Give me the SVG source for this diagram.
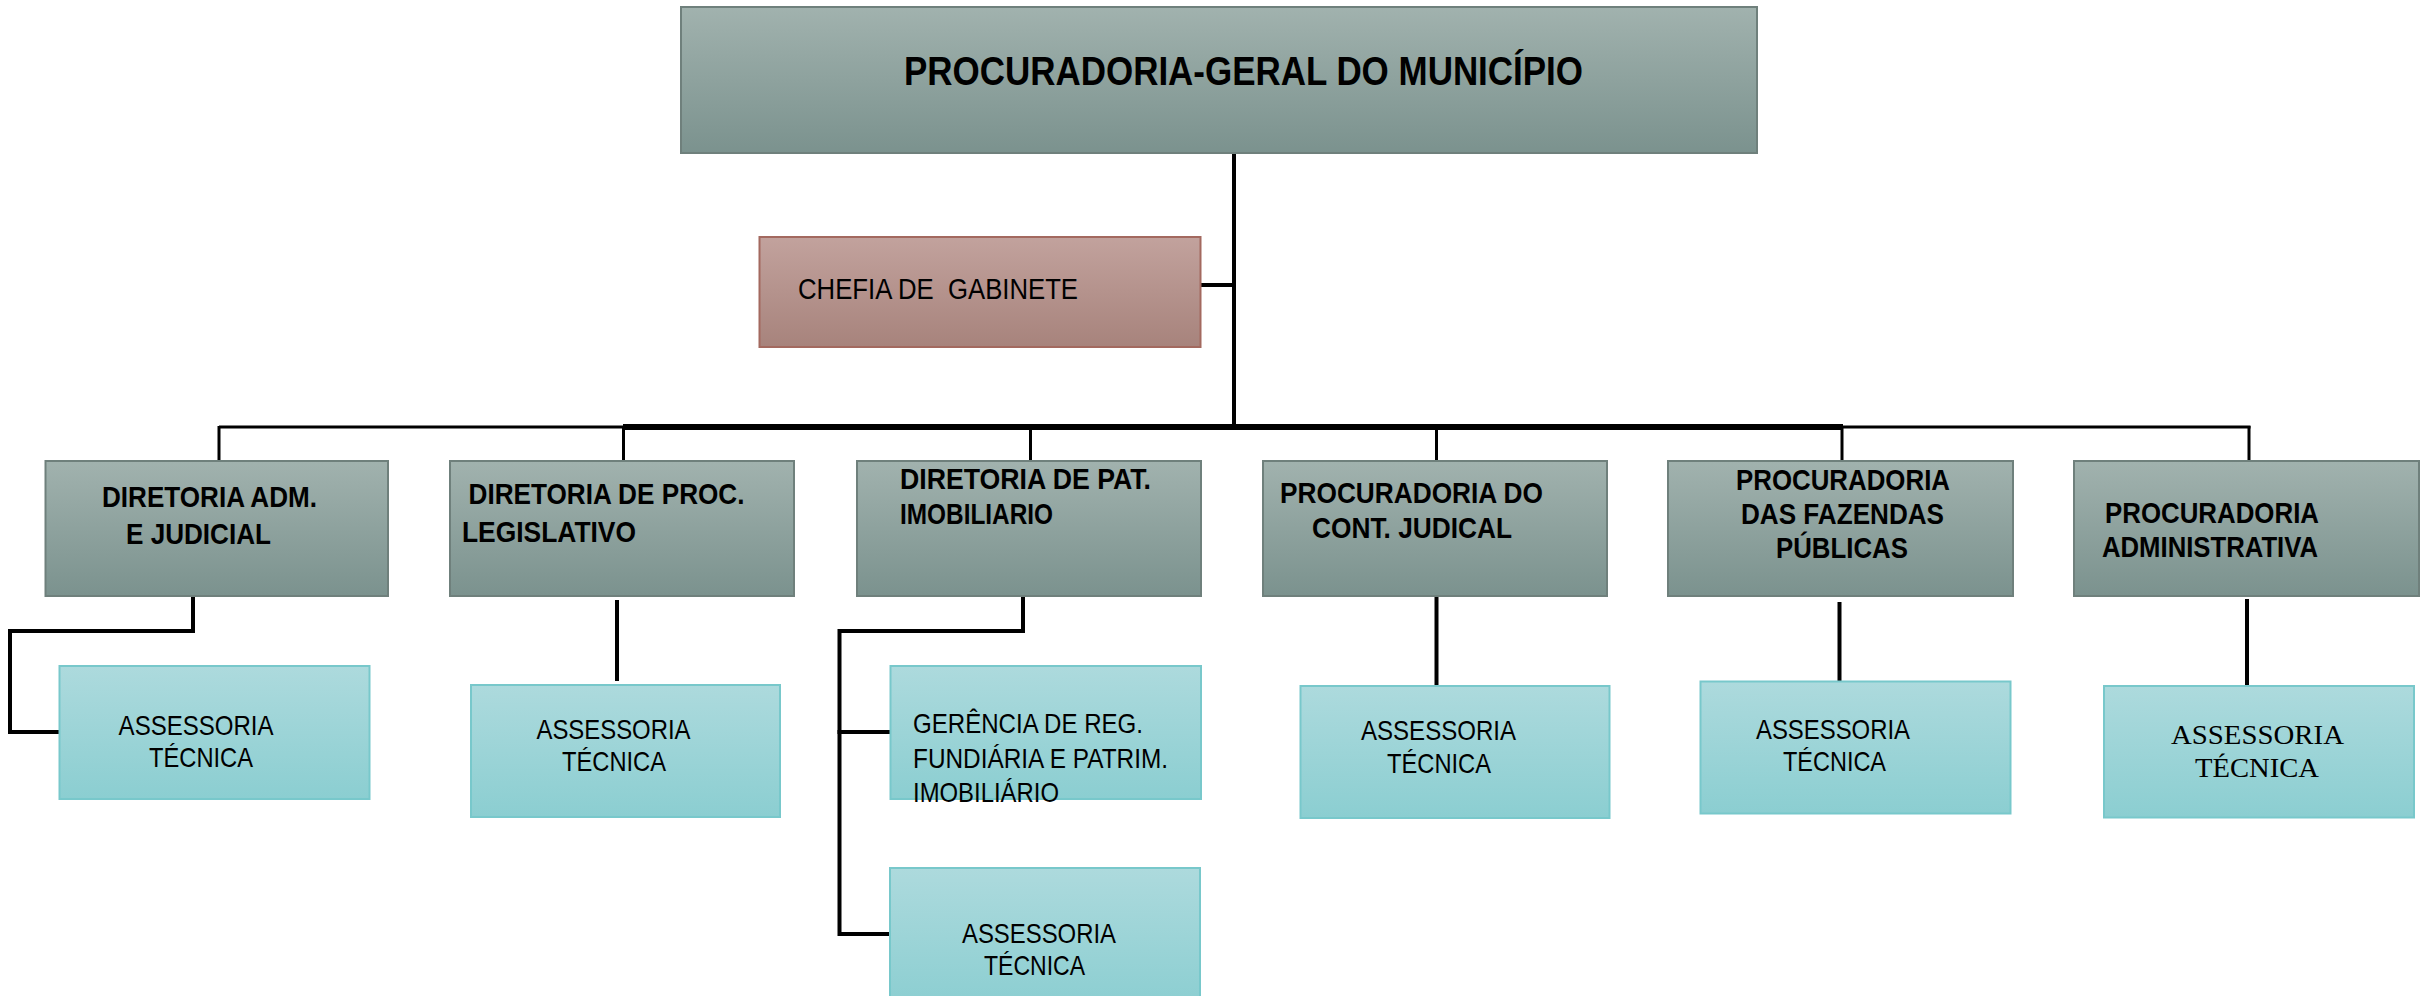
<svg xmlns="http://www.w3.org/2000/svg" width="2433" height="996" viewBox="0 0 2433 996">
<defs>
<linearGradient id="gGray" x1="0" y1="0" x2="0" y2="1">
<stop offset="0" stop-color="#a1b2ae"/>
<stop offset="1" stop-color="#7b928e"/>
</linearGradient>
<linearGradient id="gRed" x1="0" y1="0" x2="0" y2="1">
<stop offset="0" stop-color="#c2a29d"/>
<stop offset="1" stop-color="#a7837c"/>
</linearGradient>
<linearGradient id="gTeal" x1="0" y1="0" x2="0" y2="1">
<stop offset="0" stop-color="#addadd"/>
<stop offset="1" stop-color="#8bced1"/>
</linearGradient>
</defs>
<style>
.gray{fill:url(#gGray);stroke:#6f807c;stroke-width:2}
.red{fill:url(#gRed);stroke:#a3695f;stroke-width:2}
.teal{fill:url(#gTeal);stroke:#78c8cb;stroke-width:2}
.b{font-family:"Liberation Sans",Arial,sans-serif;font-weight:bold;font-size:30px;fill:#000}
.title{font-family:"Liberation Sans",Arial,sans-serif;font-weight:bold;font-size:41px;fill:#000}
.r{font-family:"Liberation Sans",Arial,sans-serif;font-size:28px;fill:#000}
.r30{font-family:"Liberation Sans",Arial,sans-serif;font-size:30px;fill:#000;white-space:pre}
.s{font-family:"Liberation Serif","Times New Roman",serif;font-size:27px;fill:#000}
.ln{fill:none;stroke:#000;stroke-width:4;stroke-linecap:square}
.thin{fill:none;stroke:#000;stroke-width:3}
</style>
<g id="connectors">
<line class="ln" x1="1234" y1="153" x2="1234" y2="427"/>
<line class="ln" x1="1201" y1="285" x2="1234" y2="285"/>
<line class="thin" x1="219" y1="427" x2="625" y2="427"/>
<line x1="623" y1="427" x2="1843" y2="427" stroke="#000" stroke-width="6"/>
<line class="thin" x1="1841" y1="427" x2="2250.5" y2="427"/>
<line class="thin" x1="219" y1="426" x2="219" y2="461"/>
<line class="thin" x1="623.5" y1="426" x2="623.5" y2="461"/>
<line class="thin" x1="1030.5" y1="426" x2="1030.5" y2="461"/>
<line class="thin" x1="1436.5" y1="426" x2="1436.5" y2="461"/>
<line class="thin" x1="1842" y1="426" x2="1842" y2="461"/>
<line class="thin" x1="2249" y1="426" x2="2249" y2="461"/>
<polyline class="ln" points="193,597 193,631 10,631 10,732 59,732"/>
<line class="ln" x1="617" y1="602" x2="617" y2="679"/>
<polyline class="ln" points="1023,597 1023,631 839.5,631 839.5,934 889,934"/>
<line class="ln" x1="839.5" y1="732" x2="889" y2="732"/>
<line class="ln" x1="1436.5" y1="598" x2="1436.5" y2="699"/>
<line class="ln" x1="1839.5" y1="604" x2="1839.5" y2="681"/>
<line class="ln" x1="2247" y1="601" x2="2247" y2="686"/>
</g>
<g id="procuradoria-geral">
<rect class="gray" x="681" y="7" width="1076" height="146"/>
<text class="title" x="904" y="85" textLength="679" lengthAdjust="spacingAndGlyphs">PROCURADORIA-GERAL DO MUNICÍPIO</text>
</g>
<g id="chefia">
<rect class="red" x="759.5" y="237" width="441" height="110"/>
<text class="r30" x="798" y="298.5" textLength="280" lengthAdjust="spacingAndGlyphs" xml:space="preserve">CHEFIA DE  GABINETE</text>
</g>
<g id="dir-adm">
<rect class="gray" x="45.5" y="461" width="342.5" height="135"/>
<text class="b" x="102" y="507" textLength="215" lengthAdjust="spacingAndGlyphs">DIRETORIA ADM.</text>
<text class="b" x="126" y="544" textLength="145" lengthAdjust="spacingAndGlyphs">E JUDICIAL</text>
</g>
<g id="dir-proc-leg">
<rect class="gray" x="450" y="461" width="344" height="135"/>
<text class="b" x="468.5" y="504" textLength="276" lengthAdjust="spacingAndGlyphs">DIRETORIA DE PROC.</text>
<text class="b" x="462" y="542" textLength="174" lengthAdjust="spacingAndGlyphs">LEGISLATIVO</text>
</g>
<g id="dir-pat">
<rect class="gray" x="857" y="461" width="344" height="135"/>
<text class="b" x="900" y="489" textLength="251" lengthAdjust="spacingAndGlyphs">DIRETORIA DE PAT.</text>
<text class="b" x="900" y="524" textLength="153" lengthAdjust="spacingAndGlyphs">IMOBILIARIO</text>
</g>
<g id="proc-cont">
<rect class="gray" x="1263" y="461" width="344" height="135"/>
<text class="b" x="1280" y="503" textLength="263" lengthAdjust="spacingAndGlyphs">PROCURADORIA DO</text>
<text class="b" x="1312" y="538" textLength="200" lengthAdjust="spacingAndGlyphs">CONT. JUDICAL</text>
</g>
<g id="proc-faz">
<rect class="gray" x="1668" y="461" width="345" height="135"/>
<text class="b" x="1736" y="490" textLength="214" lengthAdjust="spacingAndGlyphs">PROCURADORIA</text>
<text class="b" x="1741" y="524" textLength="203" lengthAdjust="spacingAndGlyphs">DAS FAZENDAS</text>
<text class="b" x="1776" y="557.5" textLength="132" lengthAdjust="spacingAndGlyphs">PÚBLICAS</text>
</g>
<g id="proc-adm">
<rect class="gray" x="2074" y="461" width="345" height="135"/>
<text class="b" x="2105" y="523.3" textLength="214" lengthAdjust="spacingAndGlyphs">PROCURADORIA</text>
<text class="b" x="2102" y="556.7" textLength="216" lengthAdjust="spacingAndGlyphs">ADMINISTRATIVA</text>
</g>
<g id="assess-1">
<rect class="teal" x="59.5" y="666" width="310" height="133"/>
<text class="r" x="118.6" y="735" textLength="155" lengthAdjust="spacingAndGlyphs">ASSESSORIA</text>
<text class="r" x="149" y="767" textLength="104" lengthAdjust="spacingAndGlyphs">TÉCNICA</text>
</g>
<g id="assess-2">
<rect class="teal" x="471" y="685" width="309" height="132"/>
<text class="r" x="536.5" y="739.3" textLength="154" lengthAdjust="spacingAndGlyphs">ASSESSORIA</text>
<text class="r" x="562" y="771" textLength="104" lengthAdjust="spacingAndGlyphs">TÉCNICA</text>
</g>
<g id="gerencia">
<rect class="teal" x="890.5" y="666" width="310.5" height="133"/>
<text class="r" x="913" y="732.7" textLength="230" lengthAdjust="spacingAndGlyphs">GERÊNCIA DE REG.</text>
<text class="r" x="913" y="767.7" textLength="255" lengthAdjust="spacingAndGlyphs">FUNDIÁRIA E PATRIM.</text>
<text class="r" x="913" y="802" textLength="146" lengthAdjust="spacingAndGlyphs">IMOBILIÁRIO</text>
</g>
<g id="assess-3">
<rect class="teal" x="890" y="868" width="310" height="140"/>
<text class="r" x="962" y="943" textLength="154" lengthAdjust="spacingAndGlyphs">ASSESSORIA</text>
<text class="r" x="984" y="975" textLength="101" lengthAdjust="spacingAndGlyphs">TÉCNICA</text>
</g>
<g id="assess-4">
<rect class="teal" x="1300.5" y="686" width="309" height="132"/>
<text class="r" x="1361" y="740" textLength="155" lengthAdjust="spacingAndGlyphs">ASSESSORIA</text>
<text class="r" x="1387" y="772.7" textLength="104" lengthAdjust="spacingAndGlyphs">TÉCNICA</text>
</g>
<g id="assess-5">
<rect class="teal" x="1700.5" y="681.5" width="310" height="132"/>
<text class="r" x="1756" y="739.3" textLength="154" lengthAdjust="spacingAndGlyphs">ASSESSORIA</text>
<text class="r" x="1783" y="771" textLength="103" lengthAdjust="spacingAndGlyphs">TÉCNICA</text>
</g>
<g id="assess-6">
<rect class="teal" x="2104" y="686" width="310" height="131.5"/>
<text class="s" x="2171" y="744.3" textLength="173" lengthAdjust="spacingAndGlyphs">ASSESSORIA</text>
<text class="s" x="2195" y="776.7" textLength="124" lengthAdjust="spacingAndGlyphs">TÉCNICA</text>
</g>
</svg>
